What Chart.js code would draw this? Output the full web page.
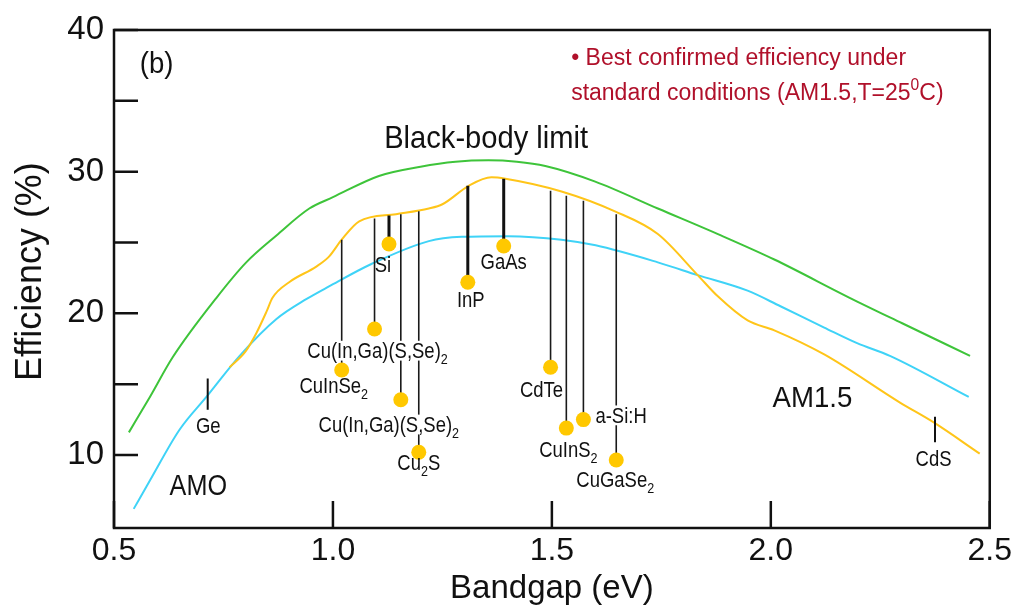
<!DOCTYPE html>
<html>
<head>
<meta charset="utf-8">
<script src="https://cdn.jsdelivr.net/npm/chart.js@4.4.1/dist/chart.umd.min.js"></script>
<style>
body{margin:0;background:#fff;}
</style>
</head>
<body>
<canvas id="gapChart" width="1016" height="606"></canvas>
<script>

const blackBodyGap = [0.534,0.582,0.634,0.734,0.802,0.871,0.946,1.0,1.105,1.2,1.28,1.355,1.42,1.485,1.599,1.742,1.886,2.008,2.18,2.3,2.455];
const blackBodyEff = [11.6,14.1,16.9,21.1,23.6,25.5,27.4,28.2,29.7,30.35,30.7,30.8,30.7,30.4,29.3,27.4,25.5,23.8,21.1,19.3,17.0];

const am0Gap = [0.545,0.582,0.65,0.711,0.787,0.871,0.939,0.991,1.089,1.219,1.294,1.4,1.522,1.6,1.742,1.833,1.947,2.022,2.122,2.197,2.272,2.452];
const am0Eff = [6.2,8.2,11.8,14.1,17.0,19.6,21.0,21.9,23.5,25.1,25.4,25.45,25.2,24.8,23.6,22.7,21.6,20.5,19.0,17.9,17.0,14.1];

const am15Gap = [0.764,0.80,0.825,0.848,0.862,0.90,0.962,0.991,1.02,1.06,1.144,1.219,1.25,1.31,1.362,1.394,1.522,1.644,1.742,1.833,1.879,1.947,2.008,2.122,2.295,2.372,2.477];
const am15Eff = [16.2,17.3,18.6,20.1,21.1,22.2,23.3,24.0,25.2,26.5,27.0,27.4,27.7,29.0,29.6,29.5,28.6,27.2,25.6,22.7,21.2,19.5,18.8,17.1,13.7,12.3,10.1];

// best cells: "_x" = subscript, "^x" = superscript
const materials = ['CuInSe_2','Cu(In,Ga)(S,Se)_2','Si','Cu(In,Ga)(S,Se)_2','Cu_2S','InP','GaAs','CdTe','CuInS_2','a-Si:H','CuGaSe_2'];
const bandgap = [1.02,1.095,1.128,1.155,1.196,1.308,1.39,1.497,1.533,1.572,1.647];
const bestEff = [16.0,18.9,24.9,13.9,10.2,22.2,24.75,16.2,11.9,12.5,9.65];
const limitAtGap = [25.2,26.7,26.9,27.0,27.2,29.0,29.5,28.65,28.3,27.95,27.0];
const thickLine = [false,false,true,false,false,true,true,false,false,false,false];

const markNames = ['Ge','CdS'];
const markGap = [0.714,2.375];
const markTop = [15.4,12.7];
const markBottom = [13.2,10.9];

const yTickValues = [10,15,20,25,30,35,40];
const xTickValues = [0.5,1.0,1.5,2.0,2.5];

// label placement, pixels from the dot
const labelLayout = [
    {dx:-8,dy:23,align:'center'},
    {dx:3,dy:29,align:'center',knock:true},
    {dx:-6,dy:28,align:'center'},
    {dx:-12,dy:32,align:'center',knock:true},
    {dx:0,dy:18,align:'center'},
    {dx:3,dy:25,align:'center'},
    {dx:0,dy:23,align:'center'},
    {dx:-9,dy:30,align:'center'},
    {dx:2,dy:29,align:'center'},
    {dx:12,dy:3,align:'left',knock:true},
    {dx:-1,dy:27,align:'center'}
];
const markLayout = [{dx:0.5,dy:23},{dx:-1.5,dy:24}];

const FONT = '"Liberation Sans", Arial, Helvetica, sans-serif';
const RED = '#b0102a';

function parseRich(str){
    const parts = [];
    let i = 0;
    while(i < str.length){
        const c = str[i];
        if((c==='_' || c==='^') && i+1 < str.length){
            parts.push({t:str[i+1],mode:c});
            i += 2;
        }
        else{
            const last = parts[parts.length-1];
            if(last && last.mode==='n') last.t += c;
            else parts.push({t:c,mode:'n'});
            i++;
        }
    }
    return parts;
}

function drawRich(ctx,str,x,y,o){
    const size = o.size;
    const sx = o.sx || 1;
    const small = size*0.68;
    const parts = parseRich(str);
    let w = 0;
    parts.forEach(p=>{
        ctx.font = (p.mode==='n' ? size : small) + 'px ' + FONT;
        p.w = ctx.measureText(p.t).width;
        w += p.w;
    });
    let x0 = x;
    if(o.align==='center') x0 = x - w*sx/2;
    if(o.align==='right') x0 = x - w*sx;
    if(o.knock){
        ctx.fillStyle = '#fff';
        ctx.fillRect(x0-2, y-size*0.78, w*sx+4, size*0.9);
    }
    ctx.save();
    ctx.translate(x0,y);
    if(o.rotate) ctx.rotate(o.rotate);
    ctx.scale(sx,1);
    ctx.fillStyle = o.color || '#111';
    ctx.textBaseline = 'alphabetic';
    ctx.textAlign = 'left';
    let cx = 0;
    parts.forEach(p=>{
        ctx.font = (p.mode==='n' ? size : small) + 'px ' + FONT;
        let dy = 0;
        if(p.mode==='_') dy = size*0.28;
        if(p.mode==='^') dy = -size*0.42;
        ctx.fillText(p.t,cx,dy);
        cx += p.w;
    });
    ctx.restore();
}

function pairs(xs,ys){
    return xs.map((x,i)=>({x:x,y:ys[i]}));
}

function dropLines(filter){
    const out = [];
    bandgap.forEach((b,i)=>{
        if(thickLine[i]!==filter) return;
        out.push({x:b,y:limitAtGap[i]});
        out.push({x:b,y:bestEff[i]});
        out.push({x:b,y:null});
    });
    return out;
}

function markLines(){
    const out = [];
    markGap.forEach((b,i)=>{
        out.push({x:b,y:markTop[i]});
        out.push({x:b,y:markBottom[i]});
        out.push({x:b,y:null});
    });
    return out;
}

const annotate = {
    id:'annotate',
    afterDatasetsDraw(chart){
        const ctx = chart.ctx;
        const xs = chart.scales.x;
        const ys = chart.scales.y;
        const a = chart.chartArea;

        ctx.save();
        ctx.strokeStyle = '#111';
        ctx.lineWidth = 2.5;
        ctx.strokeRect(a.left, a.top, a.right-a.left, a.bottom-a.top);

        ctx.lineWidth = 2.5;
        ctx.beginPath();
        ys.ticks.forEach(t=>{
            const py = ys.getPixelForValue(t.value);
            ctx.moveTo(a.left, py);
            ctx.lineTo(a.left+24, py);
        });
        xs.ticks.forEach(t=>{
            const px = xs.getPixelForValue(t.value);
            ctx.moveTo(px, a.bottom);
            ctx.lineTo(px, a.bottom-27);
        });
        ctx.stroke();
        ctx.restore();

        materials.forEach((m,i)=>{
            const px = xs.getPixelForValue(bandgap[i]);
            const py = ys.getPixelForValue(bestEff[i]);
            const l = labelLayout[i];
            drawRich(ctx,m,px+l.dx,py+l.dy,{size:22,sx:0.84,align:l.align,knock:l.knock});
        });

        markNames.forEach((m,i)=>{
            const px = xs.getPixelForValue(markGap[i]);
            const py = ys.getPixelForValue(markBottom[i]);
            const l = markLayout[i];
            drawRich(ctx,m,px+l.dx,py+l.dy,{size:22,sx:0.84,align:'center'});
        });

        const at = (x,y)=>[xs.getPixelForValue(x), ys.getPixelForValue(y)];
        let p;
        p = at(0.559,36.95);
        drawRich(ctx,'(b)',p[0],p[1],{size:29,sx:0.95});
        p = at(1.117,31.67);
        drawRich(ctx,'Black-body limit',p[0],p[1],{size:32,sx:0.91});
        p = at(0.627,7.18);
        drawRich(ctx,'AMO',p[0],p[1],{size:30,sx:0.84});
        p = at(2.004,13.39);
        drawRich(ctx,'AM1.5',p[0],p[1],{size:30,sx:0.92});
        p = at(1.544,37.53);
        drawRich(ctx,'\u2022 Best confirmed efficiency under',p[0],p[1],{size:23,color:RED});
        p = at(1.544,35.06);
        drawRich(ctx,'standard conditions (AM1.5,T=25^0C)',p[0],p[1],{size:23,color:RED});

        // y axis title, centred a little above the plot middle as in the source figure
        drawRich(ctx,'Efficiency (%)',41,381,{size:37,sx:0.97,rotate:-Math.PI/2});
    }
};

Chart.defaults.font.family = FONT;
Chart.defaults.color = '#111';

new Chart(
    document.getElementById('gapChart'),
    {
        type:'scatter',
        data:{
            datasets:[
                {
                    label:'Best cells',
                    data:pairs(bandgap,bestEff),
                    pointRadius:7.5,
                    pointBackgroundColor:'#ffc800',
                    pointBorderWidth:0,
                    showLine:false
                },
                {
                    label:'drop',
                    data:dropLines(false),
                    showLine:true,
                    spanGaps:false,
                    pointRadius:0,
                    borderColor:'#1a1a1a',
                    borderWidth:1.6
                },
                {
                    label:'drop thick',
                    data:dropLines(true),
                    showLine:true,
                    spanGaps:false,
                    pointRadius:0,
                    borderColor:'#111',
                    borderWidth:3
                },
                {
                    label:'marks',
                    data:markLines(),
                    showLine:true,
                    spanGaps:false,
                    pointRadius:0,
                    borderColor:'#111',
                    borderWidth:2
                },
                {
                    label:'AM1.5',
                    data:pairs(am15Gap,am15Eff),
                    showLine:true,
                    pointRadius:0,
                    borderColor:'#ffc519',
                    borderWidth:2,
                    cubicInterpolationMode:'monotone'
                },
                {
                    label:'AM0',
                    data:pairs(am0Gap,am0Eff),
                    showLine:true,
                    pointRadius:0,
                    borderColor:'#3fd3f7',
                    borderWidth:2,
                    cubicInterpolationMode:'monotone'
                },
                {
                    label:'Black-body limit',
                    data:pairs(blackBodyGap,blackBodyEff),
                    showLine:true,
                    pointRadius:0,
                    borderColor:'#3ec43a',
                    borderWidth:2,
                    cubicInterpolationMode:'monotone'
                }
            ]
        },
        options:{
            responsive:false,
            animation:false,
            devicePixelRatio:1,
            layout:{padding:{top:30,right:23,left:0,bottom:0}},
            plugins:{
                legend:{display:false},
                tooltip:{enabled:false}
            },
            scales:{
                x:{
                    type:'linear',
                    min:0.5,
                    max:2.5,
                    grid:{display:false,drawTicks:false},
                    border:{display:false},
                    afterBuildTicks:s=>{ s.ticks = xTickValues.map(v=>({value:v})); },
                    afterFit:s=>{ s.height = 78; },
                    ticks:{
                        font:{size:32},
                        color:'#111',
                        padding:4,
                        maxRotation:0,
                        autoSkip:false,
                        callback:v=>Number(v).toFixed(1)
                    },
                    title:{
                        display:true,
                        text:'Bandgap (eV)',
                        color:'#111',
                        font:{size:33},
                        padding:{top:0,bottom:-3}
                    }
                },
                y:{
                    type:'linear',
                    min:4.85,
                    max:40,
                    grid:{display:false,drawTicks:false},
                    border:{display:false},
                    afterBuildTicks:s=>{ s.ticks = yTickValues.map(v=>({value:v})); },
                    afterFit:s=>{ s.width = 114; },
                    ticks:{
                        font:{size:33},
                        color:'#111',
                        padding:10,
                        autoSkip:false,
                        callback:v=> v%10===0 ? String(v) : ''
                    }
                }
            }
        },
        plugins:[annotate]
    }
);

</script>
</body>
</html>
